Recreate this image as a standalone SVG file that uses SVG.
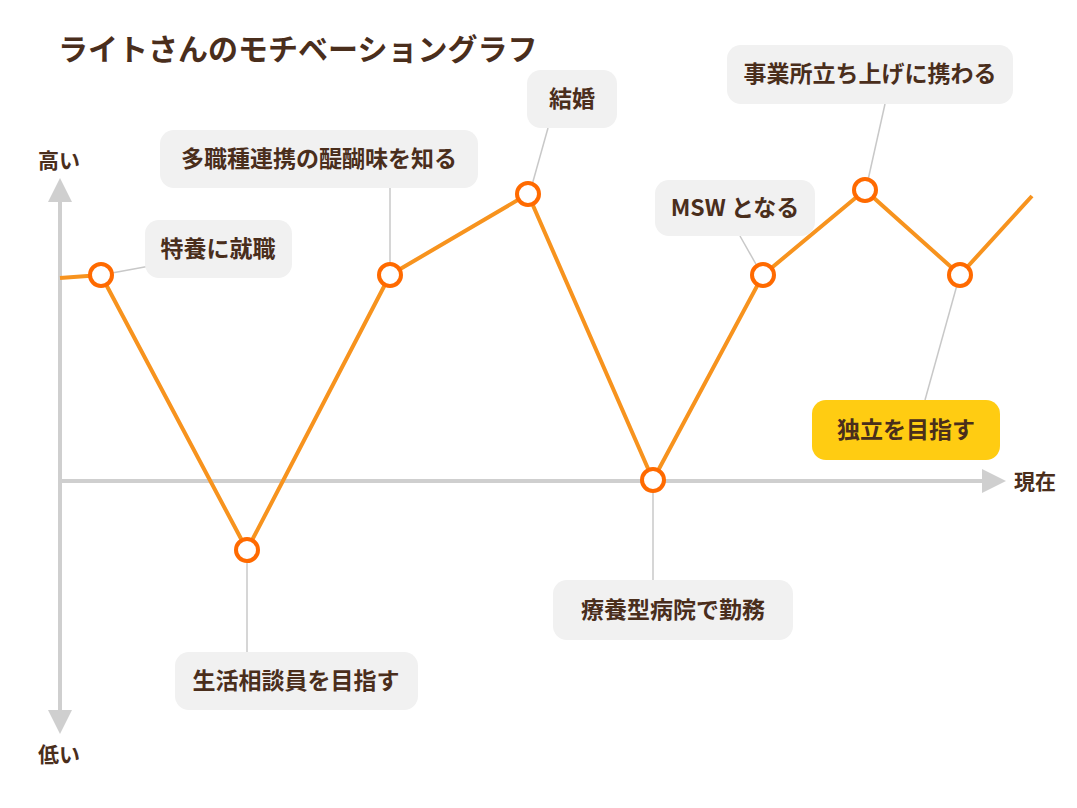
<svg xmlns="http://www.w3.org/2000/svg" width="1077" height="808" viewBox="0 0 1077 808">
<style>
text{font-family:"Noto Sans CJK JP","Noto Sans",sans-serif;font-weight:bold;fill:#4a2e1c}
.lb{font-size:23px;text-anchor:middle}
.box{fill:#f1f1f1}
.lead{stroke:#c8c8c8;stroke-width:1.5;fill:none}
.pt{fill:#fff;stroke:#ff6a00;stroke-width:4}
</style>
<rect width="1077" height="808" fill="#fff"/>
<text x="58" y="60" font-size="30">ライトさんのモチベーショングラフ</text>
<g id="axes">
<line x1="60" y1="198" x2="60" y2="714" stroke="#cfcfcf" stroke-width="4"/>
<polygon points="60,178 48,202 72,202" fill="#cfcfcf"/>
<polygon points="60,734 48,710 72,710" fill="#cfcfcf"/>
<line x1="60" y1="481" x2="985" y2="481" stroke="#cfcfcf" stroke-width="4"/>
<polygon points="1006,481 982,469 982,493" fill="#cfcfcf"/>
<text x="38" y="168" font-size="21">高い</text>
<text x="38" y="762" font-size="21">低い</text>
<text x="1014" y="489" font-size="21">現在</text>
</g>
<g id="connectors">
<line class="lead" x1="101" y1="275" x2="150" y2="266"/>
<line class="lead" x1="390" y1="188" x2="390" y2="265"/>
<line class="lead" x1="548" y1="128" x2="532" y2="185"/>
<line class="lead" x1="247" y1="560" x2="247" y2="652"/>
<line class="lead" x1="653" y1="490" x2="653" y2="580"/>
<line class="lead" x1="740" y1="236" x2="757" y2="266"/>
<line class="lead" x1="885" y1="104" x2="868" y2="180"/>
<line class="lead" x1="925" y1="400" x2="957" y2="285"/>
<polyline points="60,278 101,275 247,550 390,275 528,194 653,480 763,275 865,190 960,275 1032,196" fill="none" stroke="#f7931e" stroke-width="4" stroke-linejoin="round"/>
</g>
<g id="points">
<circle class="pt" cx="101" cy="275" r="11"/><circle class="pt" cx="247" cy="550" r="11"/>
<circle class="pt" cx="390" cy="275" r="11"/><circle class="pt" cx="528" cy="194" r="11"/>
<circle class="pt" cx="653" cy="480" r="11"/><circle class="pt" cx="763" cy="275" r="11"/>
<circle class="pt" cx="865" cy="190" r="11"/><circle class="pt" cx="960" cy="275" r="11"/>
</g>
<g id="n1"><rect class="box" x="145" y="220" width="147" height="58" rx="14"/><text class="lb" x="218" y="257">特養に就職</text></g>
<g id="n2"><rect class="box" x="160" y="130" width="318" height="58" rx="14"/><text class="lb" x="319" y="167">多職種連携の醍醐味を知る</text></g>
<g id="n3"><rect class="box" x="527" y="70" width="90" height="58" rx="14"/><text class="lb" x="572" y="107">結婚</text></g>
<g id="n4"><rect class="box" x="175" y="652" width="243" height="58" rx="14"/><text class="lb" x="296" y="689">生活相談員を目指す</text></g>
<g id="n5"><rect class="box" x="553" y="580" width="240" height="60" rx="14"/><text class="lb" x="673" y="618">療養型病院で勤務</text></g>
<g id="n6"><rect class="box" x="655" y="180" width="160" height="56" rx="14"/><text class="lb" x="735" y="216">MSW となる</text></g>
<g id="n7"><rect class="box" x="727" y="45" width="286" height="59" rx="14"/><text class="lb" x="870" y="82">事業所立ち上げに携わる</text></g>
<g id="n8"><rect x="812" y="400" width="188" height="60" rx="14" fill="#ffcc12"/><text class="lb" x="906" y="438">独立を目指す</text></g>
</svg>
